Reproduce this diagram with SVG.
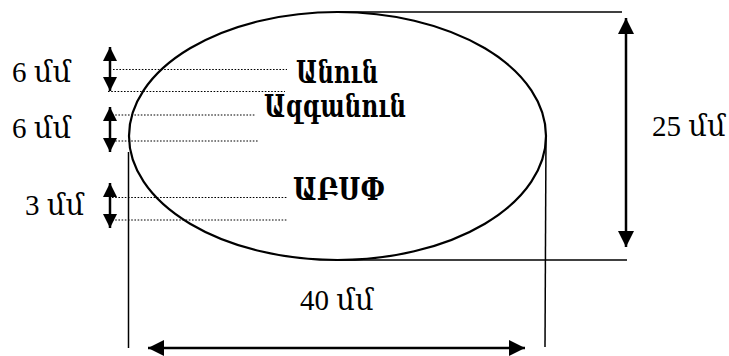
<svg xmlns="http://www.w3.org/2000/svg" width="729" height="356" viewBox="0 0 729 356">
<style>
.dim{font-family:"Liberation Serif","DejaVu Serif",serif;font-size:29px;fill:#000}
.lbl{font-family:"DejaVu Serif","Liberation Serif",serif;font-weight:bold;font-size:31px;fill:#000}
.dot{stroke:#000;stroke-width:1.2;stroke-dasharray:1.6 1.6;fill:none}
.ext{stroke:#000;stroke-width:1.5;fill:none}
.arr{stroke:#000;stroke-width:2.5;fill:none;marker-start:url(#hs);marker-end:url(#he)}
.sarr{stroke:#000;stroke-width:2.5;fill:none;marker-start:url(#ss);marker-end:url(#se)}
</style>
<defs>
<marker id="he" markerUnits="userSpaceOnUse" markerWidth="18" markerHeight="18" refX="16" refY="8" orient="auto"><path d="M0,0 L16,8 L0,16 Z" fill="#000"/></marker>
<marker id="hs" markerUnits="userSpaceOnUse" markerWidth="18" markerHeight="18" refX="0" refY="8" orient="auto"><path d="M16,0 L0,8 L16,16 Z" fill="#000"/></marker>
<marker id="se" markerUnits="userSpaceOnUse" markerWidth="16" markerHeight="16" refX="14" refY="7" orient="auto"><path d="M0,0 L14,7 L0,14 Z" fill="#000"/></marker>
<marker id="ss" markerUnits="userSpaceOnUse" markerWidth="16" markerHeight="16" refX="0" refY="7" orient="auto"><path d="M14,0 L0,7 L14,14 Z" fill="#000"/></marker>
</defs>
<g id="ellipse">
<ellipse cx="337.5" cy="136" rx="208.5" ry="124" fill="none" stroke="#000" stroke-width="2.2"/>
</g>
<g id="connectors">
<line class="ext" x1="337" y1="12" x2="622" y2="12"/>
<line class="ext" x1="337" y1="260" x2="627" y2="260"/>
<line class="ext" x1="128.5" y1="152" x2="128.5" y2="348"/>
<line class="ext" x1="546" y1="135" x2="545" y2="347"/>
<line class="arr" x1="626" y1="18" x2="626" y2="247"/>
<line class="arr" x1="148" y1="348" x2="525" y2="348"/>
<line class="sarr" x1="110" y1="47" x2="110" y2="91"/>
<line class="sarr" x1="110" y1="107" x2="110" y2="152"/>
<line class="sarr" x1="110" y1="183" x2="110" y2="228"/>
<line class="dot" x1="113" y1="69.5" x2="287" y2="69.5"/>
<line class="dot" x1="108" y1="91.5" x2="285" y2="91.5"/>
<line class="dot" x1="112" y1="115" x2="255" y2="115"/>
<line class="dot" x1="112" y1="141" x2="258" y2="141"/>
<line class="dot" x1="112" y1="197.5" x2="287" y2="197.5"/>
<line class="dot" x1="112" y1="220" x2="287" y2="220"/>
</g>
<g id="labels">
<text class="lbl" x="296" y="83" textLength="82" lengthAdjust="spacingAndGlyphs">Անուն</text>
<text class="lbl" x="264" y="117" textLength="142" lengthAdjust="spacingAndGlyphs">Ազգանուն</text>
<text class="lbl" x="293" y="200" textLength="92" lengthAdjust="spacingAndGlyphs">ԱԲՍՓ</text>
</g>
<g id="dimensions">
<text class="dim" x="12" y="82">6 մմ</text>
<text class="dim" x="12" y="138">6 մմ</text>
<text class="dim" x="25" y="215">3 մմ</text>
<text class="dim" x="652" y="136">25 մմ</text>
<text class="dim" x="300" y="310">40 մմ</text>
</g>
</svg>
